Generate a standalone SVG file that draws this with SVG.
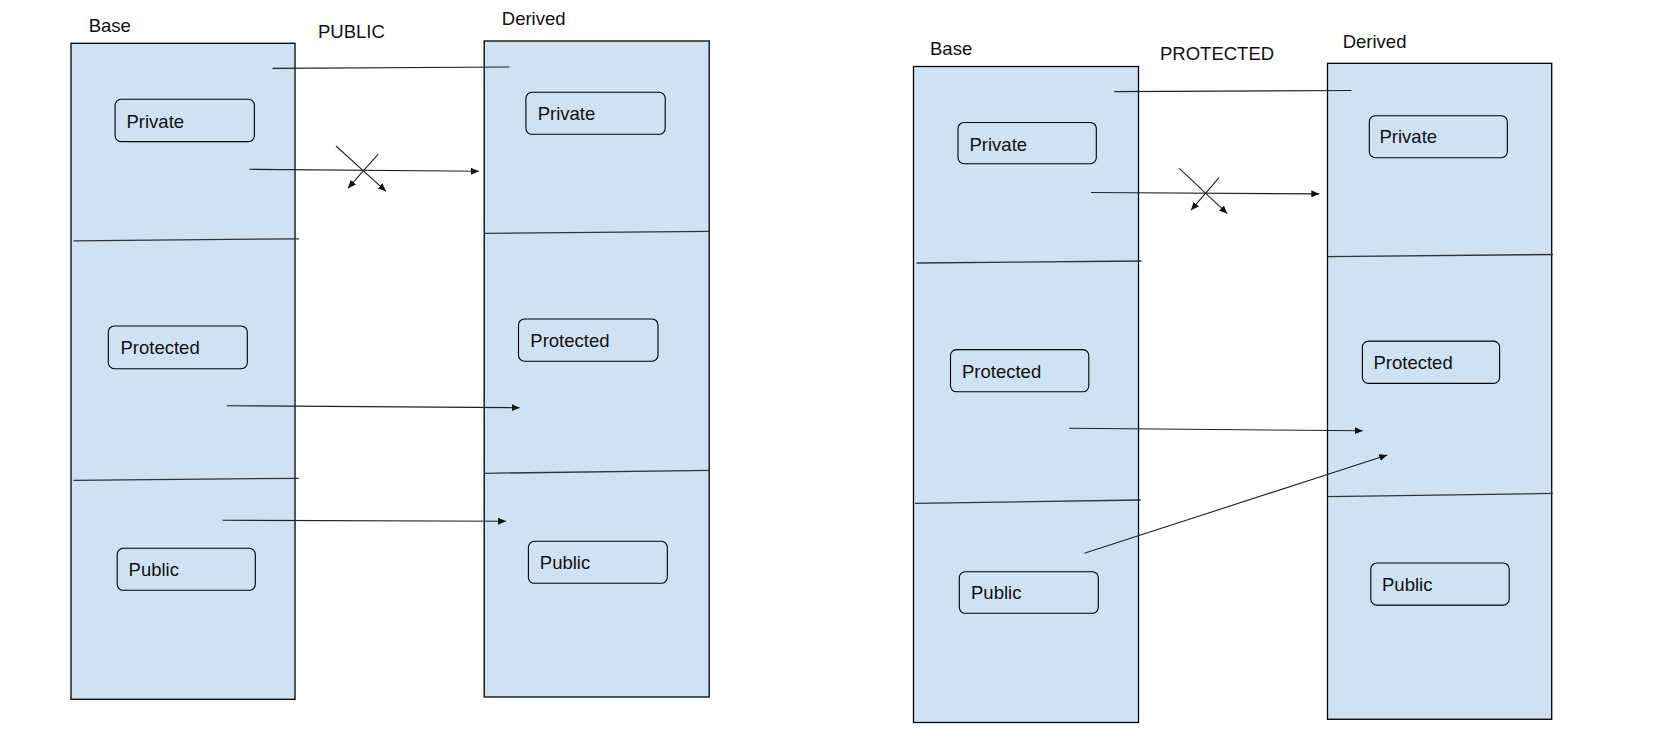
<svg xmlns="http://www.w3.org/2000/svg" width="1656" height="743" viewBox="0 0 1656 743">
<style>
.panel{fill:#cfe2f3;stroke:#000;stroke-width:1.3}
.box{fill:#cfe2f3;stroke:#000;stroke-width:1.1}
.sep{fill:none;stroke:#333;stroke-width:1.3}
.con{fill:none;stroke:#222;stroke-width:1.1}
.arr{marker-end:url(#ah)}
text{font-family:"Liberation Sans",Arial,sans-serif;font-size:18.5px;fill:#111}
</style>
<defs>
<marker id="ah" markerUnits="userSpaceOnUse" markerWidth="8" markerHeight="7" refX="8" refY="3.5" orient="auto">
<path d="M0,0 L8,3.5 L0,7 z" fill="#111"/>
</marker>
</defs>
<rect width="1656" height="743" fill="#fff"/>

<!-- Left diagram: PUBLIC -->
<text x="88.7" y="32.3">Base</text>
<text x="318" y="37.7">PUBLIC</text>
<text x="501.8" y="25">Derived</text>

<g id="pub-base">
<rect class="panel" x="71" y="43.3" width="224" height="656"/>
<line class="sep" x1="73.5" y1="240.8" x2="299" y2="238.8"/>
<line class="sep" x1="73.5" y1="480.3" x2="299" y2="478.3"/>
</g>
<g id="pub-derived">
<rect class="panel" x="484.2" y="41" width="225" height="656"/>
<line class="sep" x1="484.5" y1="233.4" x2="710" y2="231.3"/>
<line class="sep" x1="484.5" y1="473.3" x2="710" y2="470.3"/>
</g>
<g id="pub-base-private"><rect class="box" x="115.1" y="99.3" width="139.3" height="42.3" rx="6"/><text x="126.5" y="127.5">Private</text></g>
<g id="pub-base-protected"><rect class="box" x="108.3" y="326" width="139" height="42.7" rx="6"/><text x="120.5" y="354.3">Protected</text></g>
<g id="pub-base-public"><rect class="box" x="117.2" y="548.3" width="138.1" height="42" rx="6"/><text x="128.6" y="576">Public</text></g>
<g id="pub-der-private"><rect class="box" x="525.9" y="92.3" width="139.3" height="42" rx="6"/><text x="537.7" y="120">Private</text></g>
<g id="pub-der-protected"><rect class="box" x="518.5" y="319" width="139.5" height="42.2" rx="6"/><text x="530.3" y="347">Protected</text></g>
<g id="pub-der-public"><rect class="box" x="528.4" y="541.3" width="138.9" height="42" rx="6"/><text x="539.8" y="569">Public</text></g>

<!-- Right diagram: PROTECTED -->
<text x="930" y="55">Base</text>
<text x="1160" y="60.3">PROTECTED</text>
<text x="1342.7" y="47.7">Derived</text>

<g id="prot-base">
<rect class="panel" x="913.5" y="66.5" width="225" height="656"/>
<line class="sep" x1="916.5" y1="263" x2="1141.5" y2="261"/>
<line class="sep" x1="915" y1="503.3" x2="1140.7" y2="500"/>
</g>
<g id="prot-derived">
<rect class="panel" x="1327.5" y="63.3" width="224.2" height="656"/>
<line class="sep" x1="1327.5" y1="256.6" x2="1553" y2="254.5"/>
<line class="sep" x1="1327.5" y1="496.6" x2="1553" y2="493.4"/>
</g>
<g id="prot-base-private"><rect class="box" x="958" y="122.5" width="138.3" height="41.2" rx="6"/><text x="969.5" y="150.5">Private</text></g>
<g id="prot-base-protected"><rect class="box" x="950.5" y="349.6" width="138.3" height="42.2" rx="6"/><text x="962" y="377.8">Protected</text></g>
<g id="prot-base-public"><rect class="box" x="959.3" y="571.7" width="139" height="41.6" rx="6"/><text x="971" y="599.3">Public</text></g>
<g id="prot-der-private"><rect class="box" x="1369.3" y="115.7" width="138" height="42" rx="6"/><text x="1379.5" y="142.7">Private</text></g>
<g id="prot-der-protected"><rect class="box" x="1362.4" y="341.1" width="137.2" height="42.3" rx="6"/><text x="1373.5" y="369">Protected</text></g>
<g id="prot-der-public"><rect class="box" x="1370.8" y="563" width="138.4" height="42.1" rx="6"/><text x="1382" y="591">Public</text></g>

<g id="connectors">
<line class="con" x1="272.5" y1="68.4" x2="509.5" y2="67"/>
<line class="con arr" x1="249.4" y1="169.3" x2="478.8" y2="171.3"/>
<line class="con arr" x1="336" y1="146" x2="386" y2="191.3"/>
<line class="con arr" x1="378" y1="154.3" x2="348" y2="188.2"/>
<line class="con arr" x1="226.7" y1="405.7" x2="519.6" y2="407.7"/>
<line class="con arr" x1="222.5" y1="520.3" x2="506.1" y2="521.2"/>

<line class="con" x1="1114.4" y1="91.6" x2="1351.5" y2="90.5"/>
<line class="con arr" x1="1091" y1="192.5" x2="1319.3" y2="193.9"/>
<line class="con arr" x1="1179.3" y1="168.3" x2="1227.3" y2="213.6"/>
<line class="con arr" x1="1219" y1="177.7" x2="1191" y2="210.2"/>
<line class="con arr" x1="1069.3" y1="428.3" x2="1362.7" y2="430.8"/>
<line class="con arr" x1="1084.3" y1="553.3" x2="1387.3" y2="455"/>
</g>
</svg>
